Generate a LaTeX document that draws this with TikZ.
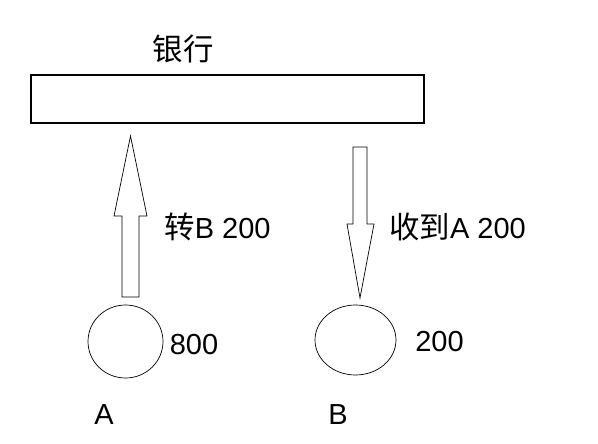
\documentclass[tikz,border=0pt]{standalone}
\usepackage{fontspec}
\setmainfont{Liberation Sans}
\newfontfamily\cjk[Scale=1.05]{Noto Sans CJK SC}
\usetikzlibrary{shapes.geometric}
\newcommand{\zh}[1]{{\cjk #1}}

\begin{document}
\begin{tikzpicture}[x=1pt, y=-1pt,
        txt/.style={inner sep=0pt, font=\fontsize{29}{34}\selectfont},
        acct/.style={ellipse, draw, line width=0.7pt, inner sep=0pt},
        blockarrow/.style={draw, line width=0.7pt}]
    \useasboundingbox (0,0) rectangle (598,444);
    \node[draw, line width=1.1pt, minimum width=393pt, minimum height=48pt] (bank) at (227.5,99) {};
    \node[txt] (title) at (183,49) {\zh{银行}};
    % A sends, B receives
    \node[acct, minimum width=75pt, minimum height=73pt] (A) at (125.5,341.5) {};
    \node[acct, minimum width=81pt, minimum height=70pt] (B) at (355.5,340) {};
    \node[txt] (balA) at (194,345) {800};
    \node[txt] (balB) at (439.5,342) {200};
    \node[txt] (nameA) at (104,415) {A};
    \node[txt] (nameB) at (338,415) {B};
    \draw[blockarrow] (122,297) -- (122,216) -- (114,216) -- (130.5,136)
        -- (147,216) -- (139,216) -- (139,297) -- cycle;
    \draw[blockarrow] (353,147) -- (367,147) -- (367,224) -- (374,224)
        -- (360,298) -- (347,224) -- (353,224) -- cycle;
    \node[txt] (send) at (217.5,227) {\zh{转}B 200};
    \node[txt] (recv) at (457.5,227) {\zh{收到}A 200};
\end{tikzpicture}
\end{document}
